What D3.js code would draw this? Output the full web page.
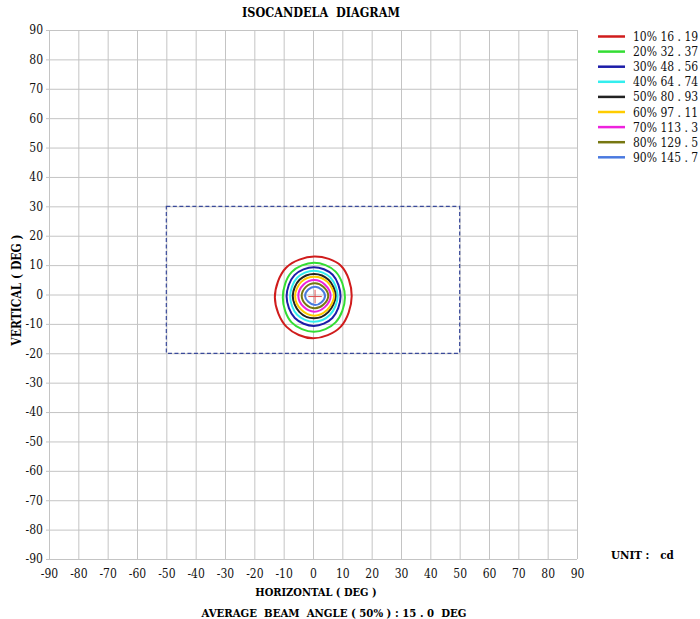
<!DOCTYPE html>
<html><head><meta charset="utf-8">
<script src="https://cdn.jsdelivr.net/npm/d3@7"></script>
<style>body{margin:0;background:#fff}svg{display:block}</style>
</head><body><svg id="c" width="700" height="619"></svg>
<script>
const ticks = [-90,-80,-70,-60,-50,-40,-30,-20,-10,0,10,20,30,40,50,60,70,80,90];
const levelLabels = ["10%","20%","30%","40%","50%","60%","70%","80%","90%"];
const levelValues = ["16 . 19","32 . 37","48 . 56","64 . 74","80 . 93","97 . 11","113 . 3","129 . 5","145 . 7"];
const levelColors = ["#d01c1c","#33dd33","#1c1ca8","#33eeee","#222222","#ffcc00","#ee22dd","#777711","#4a7ae0"];
const contour10 = [[0.5,12.9],[9.6,9.7],[13.2,-0.5],[9.4,-11.0],[0,-14.9],[-9.0,-11.0],[-13,-1],[-9.1,9.2]];
const contour20 = [[0.3,10.8],[7.7,7.8],[10.9,-1],[7.7,-9.5],[0.3,-12.7],[-7.3,-9.5],[-10.3,-1],[-7.3,7.6]];
const contour30 = [[0.3,9.3],[6.7,6.7],[9.4,-0.7],[6.6,-8.0],[0.3,-10.7],[-6.2,-8.0],[-9.0,-0.7],[-6.3,6.6]];
const contour40 = [[0.3,8.1],[5.9,5.8],[8.4,-0.6],[5.8,-6.9],[0.3,-9.3],[-5.4,-6.9],[-7.8,-0.6],[-5.4,5.7]];
const contour50 = [[0.4,7.0],[5.3,5.0],[7.7,-0.5],[5.2,-6.0],[0.4,-8.1],[-4.6,-6.0],[-6.9,-0.5],[-4.6,5.0]];
const contour60 = [[0.5,6.05],[4.9,4.3],[7.2,-0.5],[4.8,-5.3],[0.5,-7.2],[-4.0,-5.2],[-6.1,-0.5],[-4.0,4.3]];
const contour70 = [[0.5,4.9],[4.0,3.4],[6.0,-0.5],[4.0,-4.3],[0.5,-5.85],[-3.2,-4.2],[-5.0,-0.5],[-3.2,3.4]];
const contour80 = [[0.7,3.8],[3.5,2.6],[5.2,-0.5],[3.5,-3.5],[0.7,-4.7],[-2.4,-3.4],[-3.85,-0.5],[-2.4,2.6]];
const contour90 = [[0.7,2.65],[2.9,1.7],[4.1,-0.5],[2.9,-2.6],[0.7,-3.6],[-1.6,-2.5],[-2.7,-0.5],[-1.6,1.7]];
const contours = [contour10,contour20,contour30,contour40,contour50,contour60,contour70,contour80,contour90];
const beamRect = {x0:-50,x1:50,y0:-20,y1:30};
const peak = [0.7,-0.7];

const FONT = "'DejaVu Serif Condensed','DejaVu Serif',serif";
const svg = d3.select("#c");
const x = d3.scaleLinear().domain([-90,90]).range([49,577]);
const y = d3.scaleLinear().domain([-90,90]).range([559,30]);

// grid
const g = svg.append("g");
g.selectAll(".vx").data(ticks).join("line")
  .attr("x1",d=>x(d)+0.5).attr("x2",d=>x(d)+0.5).attr("y1",y(90)).attr("y2",y(-90))
  .attr("stroke","#c4c4c4").attr("stroke-width",1);
g.selectAll(".hy").data(ticks).join("line")
  .attr("y1",d=>y(d)+0.5).attr("y2",d=>y(d)+0.5).attr("x1",x(-90)-3).attr("x2",x(90))
  .attr("stroke","#c4c4c4").attr("stroke-width",1);

// axes labels
const fmt = d=>String(d);
const xa = d3.axisBottom(x).tickValues(ticks).tickFormat(fmt).tickSize(0).tickPadding(10);
svg.append("g").attr("transform",`translate(0,${y(-90)})`).call(xa)
  .attr("font-family",null)
  .call(s=>s.select(".domain").remove())
  .selectAll("text").attr("font-size",12).attr("fill","#111").style("font-family",FONT).style("font-stretch","condensed");
const ya = d3.axisLeft(y).tickValues(ticks).tickFormat(fmt).tickSize(0).tickPadding(6);
svg.append("g").attr("transform",`translate(${x(-90)},0)`).call(ya)
  .attr("font-family",null)
  .call(s=>s.select(".domain").remove())
  .selectAll("text").attr("font-size",12).attr("fill","#111").style("font-family",FONT).style("font-stretch","condensed");

// beam rectangle
svg.append("rect").attr("x",x(beamRect.x0)).attr("y",y(beamRect.y1))
  .attr("width",x(beamRect.x1)-x(beamRect.x0)).attr("height",y(beamRect.y0)-y(beamRect.y1))
  .attr("fill","none").attr("stroke","#3a4a9a").attr("stroke-width",1.2).attr("stroke-dasharray","4,2.5");

// contours
const line = d3.line().x(d=>x(d[0])).y(d=>y(d[1])).curve(d3.curveCatmullRomClosed.alpha(0.5));
svg.append("g").selectAll("path").data(contours).join("path")
  .attr("d",line).attr("fill","none")
  .attr("stroke",(d,i)=>levelColors[i]).attr("stroke-width",2);

// peak cross
svg.append("path").attr("d",`M${x(peak[0]-2.3)},${y(peak[1])}H${x(peak[0]+2.3)}M${x(peak[0])},${y(peak[1]-2.3)}V${y(peak[1]+2.3)}`)
  .attr("stroke","#e05050").attr("stroke-width",1);

// legend
const lg = svg.append("g").selectAll("g").data(levelLabels).join("g")
  .attr("transform",(d,i)=>`translate(598,${36.5+i*15.1})`);
lg.append("line").attr("x1",0).attr("x2",27).attr("stroke",(d,i)=>levelColors[i]).attr("stroke-width",2.5);
lg.append("text").attr("x",35).attr("y",4.5).attr("font-size",12).attr("fill","#111")
  .style("font-family",FONT).style("font-stretch","condensed")
  .style("white-space","pre").text((d,i)=>d+" "+levelValues[i]);

// texts
function T(xp,yp,s,fs,anchor){
  return svg.append("text").attr("x",xp).attr("y",yp).attr("text-anchor",anchor||"middle")
    .attr("font-size",fs).attr("font-weight","bold").style("font-family",FONT).style("font-stretch","condensed")
    .style("white-space","pre").text(s);
}
T(321,17,"ISOCANDELA  DIAGRAM",12.5);
T(316,596,"HORIZONTAL ( DEG )",11);
T(334,617,"AVERAGE  BEAM  ANGLE ( 50% ) : 15 . 0  DEG",11.3);
T(0,0,"VERTICAL ( DEG )",12).attr("transform",`translate(21,290) rotate(-90)`);
T(611,559,"UNIT :   cd",11.5,"start");
</script></body></html>
